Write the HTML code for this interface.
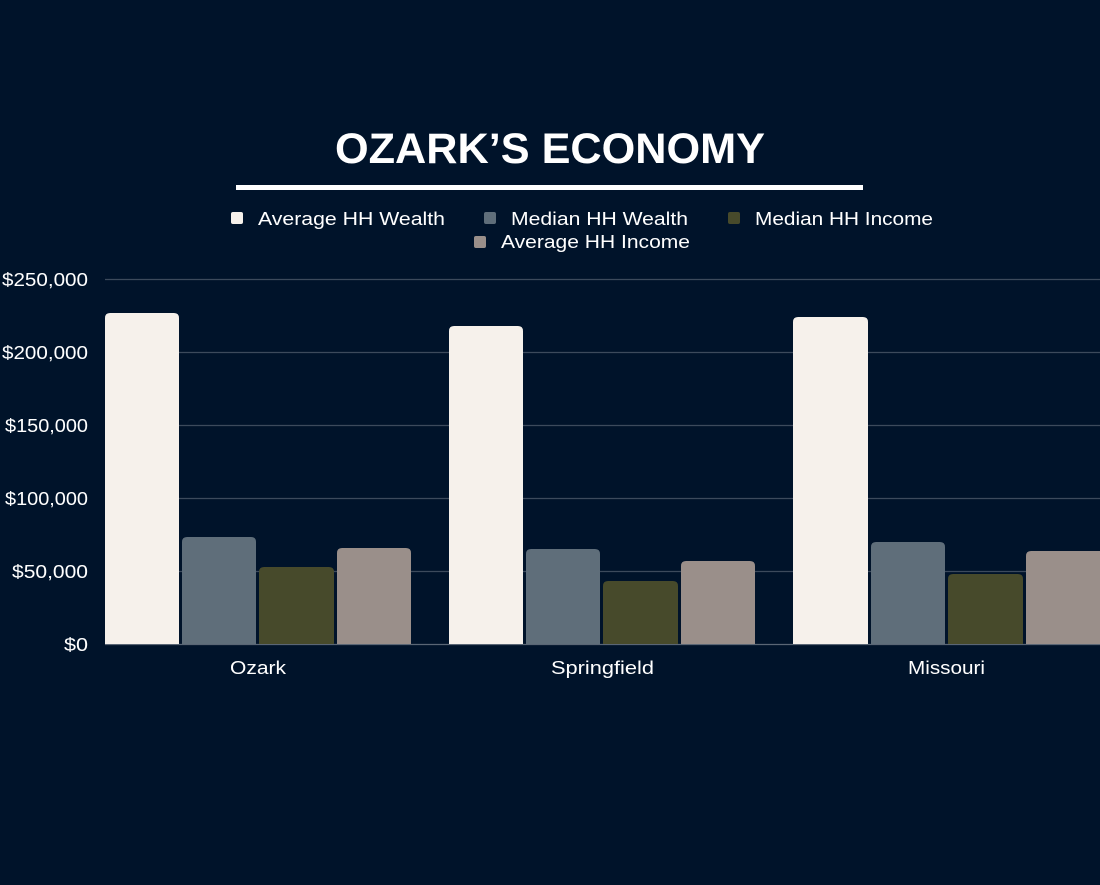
<!DOCTYPE html>
<html><head><meta charset="utf-8"><style>
html,body{margin:0;padding:0;background:#00132a;}
svg{display:block;}
text{font-family:"Liberation Sans",sans-serif;fill:#fff;}
</style></head><body>
<svg width="1100" height="885" viewBox="0 0 1100 885" xmlns="http://www.w3.org/2000/svg">
<rect width="1100" height="885" fill="#00132a"/>
<text x="335" y="163" font-size="43" font-weight="bold" textLength="430" lengthAdjust="spacingAndGlyphs">OZARK’S ECONOMY</text>
<rect x="236" y="185" width="627" height="5" fill="#fff"/>
<g font-size="18.5">
<rect x="231" y="212" width="12" height="12" rx="2" fill="#f6f1eb"/>
<text x="258" y="225" textLength="187" lengthAdjust="spacingAndGlyphs">Average HH Wealth</text>
<rect x="484" y="212" width="12" height="12" rx="2" fill="#5f6e7a"/>
<text x="511" y="225" textLength="177" lengthAdjust="spacingAndGlyphs">Median HH Wealth</text>
<rect x="728" y="212" width="12" height="12" rx="2" fill="#474a2b"/>
<text x="755" y="225" textLength="178" lengthAdjust="spacingAndGlyphs">Median HH Income</text>
<rect x="474" y="236" width="12" height="12" rx="2" fill="#9a8f8a"/>
<text x="501" y="248" textLength="189" lengthAdjust="spacingAndGlyphs">Average HH Income</text>
</g>
<g stroke="#3c4a5c" stroke-width="1.2">
<line x1="105" y1="279.5" x2="1100" y2="279.5"/>
<line x1="105" y1="352.5" x2="1100" y2="352.5"/>
<line x1="105" y1="425.5" x2="1100" y2="425.5"/>
<line x1="105" y1="498.5" x2="1100" y2="498.5"/>
<line x1="105" y1="571.5" x2="1100" y2="571.5"/>
<line x1="105" y1="644.5" x2="1100" y2="644.5" stroke="#5a6675"/>
</g>
<g font-size="18.5">
<text x="2" y="286" textLength="86" lengthAdjust="spacingAndGlyphs">$250,000</text>
<text x="2" y="359" textLength="86" lengthAdjust="spacingAndGlyphs">$200,000</text>
<text x="5" y="432" textLength="83" lengthAdjust="spacingAndGlyphs">$150,000</text>
<text x="5" y="505" textLength="83" lengthAdjust="spacingAndGlyphs">$100,000</text>
<text x="12" y="578" textLength="76" lengthAdjust="spacingAndGlyphs">$50,000</text>
<text x="64" y="651" textLength="24" lengthAdjust="spacingAndGlyphs">$0</text>
</g>
<g>
<path d="M105,644 V318 q0,-5 5,-5 h64 q5,0 5,5 V644Z" fill="#f6f1eb"/>
<path d="M182,644 V542 q0,-5 5,-5 h64 q5,0 5,5 V644Z" fill="#5f6e7a"/>
<path d="M259,644 V572 q0,-5 5,-5 h65 q5,0 5,5 V644Z" fill="#474a2b"/>
<path d="M337,644 V553 q0,-5 5,-5 h64 q5,0 5,5 V644Z" fill="#9a8f8a"/>

<path d="M449,644 V331 q0,-5 5,-5 h64 q5,0 5,5 V644Z" fill="#f6f1eb"/>
<path d="M526,644 V554 q0,-5 5,-5 h64 q5,0 5,5 V644Z" fill="#5f6e7a"/>
<path d="M603,644 V586 q0,-5 5,-5 h65 q5,0 5,5 V644Z" fill="#474a2b"/>
<path d="M681,644 V566 q0,-5 5,-5 h64 q5,0 5,5 V644Z" fill="#9a8f8a"/>

<path d="M793,644 V322 q0,-5 5,-5 h65 q5,0 5,5 V644Z" fill="#f6f1eb"/>
<path d="M871,644 V547 q0,-5 5,-5 h64 q5,0 5,5 V644Z" fill="#5f6e7a"/>
<path d="M948,644 V579 q0,-5 5,-5 h65 q5,0 5,5 V644Z" fill="#474a2b"/>
<path d="M1026,644 V556 q0,-5 5,-5 h69 V644Z" fill="#9a8f8a"/>
</g>
<g font-size="18.5">
<text x="230" y="674" textLength="56" lengthAdjust="spacingAndGlyphs">Ozark</text>
<text x="551" y="674" textLength="103" lengthAdjust="spacingAndGlyphs">Springfield</text>
<text x="908" y="674" textLength="77" lengthAdjust="spacingAndGlyphs">Missouri</text>
</g>
</svg>
</body></html>
